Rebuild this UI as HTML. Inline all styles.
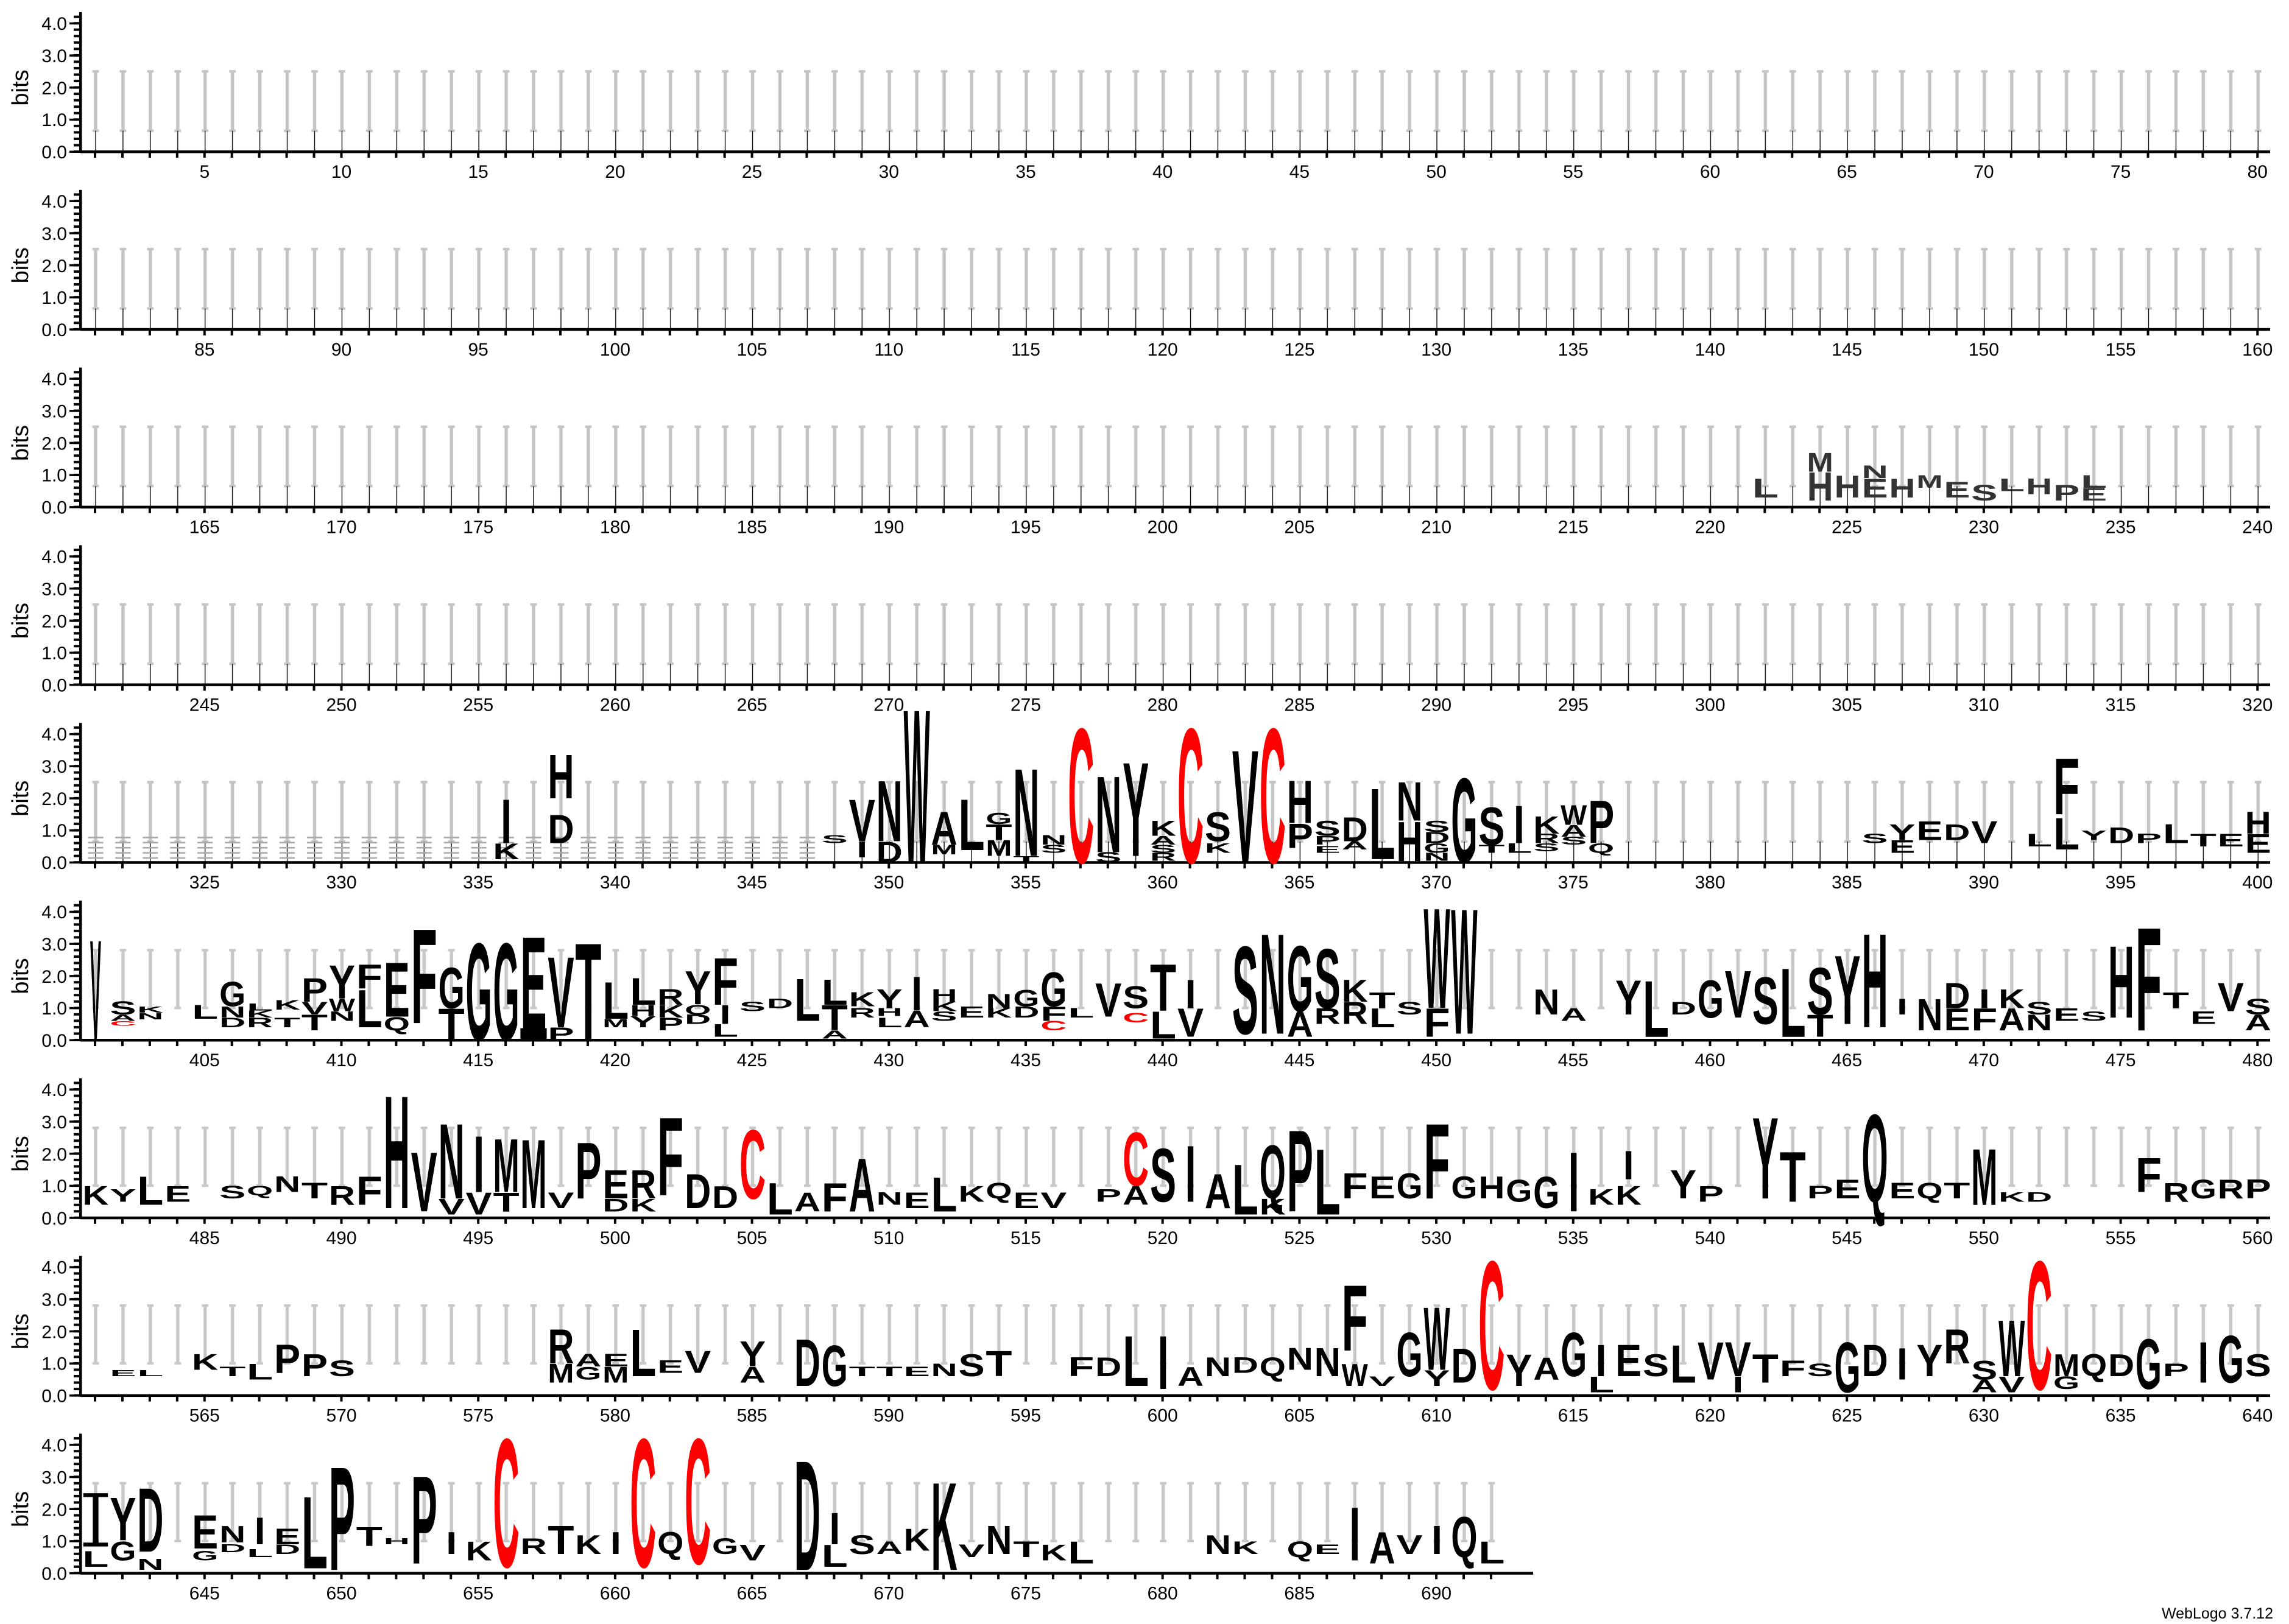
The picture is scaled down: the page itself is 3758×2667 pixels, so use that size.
<!DOCTYPE html>
<html><head><meta charset="utf-8"><style>
html,body{margin:0;padding:0;background:#fff}
svg{display:block}
.l{font-family:"Liberation Sans",sans-serif;font-weight:bold;fill:#000}
.r{fill:#f00}
.g{fill:#333}
.t{font-family:"Liberation Sans",sans-serif;font-size:30px;fill:#000}
.b{font-family:"Liberation Sans",sans-serif;font-size:38px;fill:#000}
</style></head><body>
<svg width="3758" height="2667" viewBox="0 0 3758 2667" xmlns="http://www.w3.org/2000/svg">
<defs>
<pattern id="eb" patternUnits="userSpaceOnUse" x="0" y="-260" width="100" height="260">
<line x1="50" y1="10" x2="50" y2="195" stroke="#c4c4c4" stroke-width="12"/>
<line x1="38" y1="10" x2="62" y2="10" stroke="#c4c4c4" stroke-width="8"/>
<line x1="38" y1="195" x2="62" y2="195" stroke="#c4c4c4" stroke-width="8"/>
<line x1="50" y1="195" x2="50" y2="260" stroke="#000" stroke-width="3"/>
</pattern>
<pattern id="eb2" patternUnits="userSpaceOnUse" x="0" y="-300" width="100" height="300">
<line x1="50" y1="20" x2="50" y2="200" stroke="#c8c8c8" stroke-width="12"/>
<line x1="38" y1="20" x2="62" y2="20" stroke="#c8c8c8" stroke-width="8"/>
<line x1="38" y1="200" x2="62" y2="200" stroke="#c8c8c8" stroke-width="8"/>
</pattern>
<pattern id="st" patternUnits="userSpaceOnUse" x="0" y="0" width="100" height="16">
<rect x="22" y="0" width="56" height="5" fill="#aaa"/>
</pattern>
<pattern id="xt" patternUnits="userSpaceOnUse" x="133.53" y="0" width="44.94" height="12">
<rect x="20.5" y="0" width="4" height="12" fill="#000"/>
</pattern>
<pattern id="yt" patternUnits="userSpaceOnUse" x="0" y="0" width="20" height="10.54">
<rect x="0" y="0" width="20" height="2" fill="#000"/><rect x="0" y="8.54" width="20" height="2" fill="#000"/>
</pattern>
<g id="yax">
<rect x="121" y="-225" width="11" height="226" fill="url(#yt)"/>
<rect x="130" y="-229" width="4.5" height="231" fill="#000"/>
<rect x="114" y="-1.5" width="18" height="3.5" fill="#000"/>
<rect x="114" y="-54.2" width="18" height="3.5" fill="#000"/>
<rect x="114" y="-106.9" width="18" height="3.5" fill="#000"/>
<rect x="114" y="-159.6" width="18" height="3.5" fill="#000"/>
<rect x="114" y="-212.3" width="18" height="3.5" fill="#000"/>
</g>
</defs>

<g transform="translate(0,249)">
<use href="#yax"/>
<rect x="132" y="-2" width="3595" height="4.5" fill="#000"/><rect x="132" y="2" width="3595" height="8" fill="url(#xt)"/>
<g class="t" text-anchor="end"><text x="110" y="11">0.0</text><text x="110" y="-42">1.0</text><text x="110" y="-94">2.0</text><text x="110" y="-147">3.0</text><text x="110" y="-200">4.0</text></g>
<text class="b" transform="translate(46,-105) rotate(-90)" text-anchor="middle">bits</text>
<g class="t" text-anchor="middle"><text x="335.8" y="43">5</text><text x="560.5" y="43">10</text><text x="785.2" y="43">15</text><text x="1009.9" y="43">20</text><text x="1234.6" y="43">25</text><text x="1459.3" y="43">30</text><text x="1684" y="43">35</text><text x="1908.7" y="43">40</text><text x="2133.4" y="43">45</text><text x="2358.1" y="43">50</text><text x="2582.8" y="43">55</text><text x="2807.5" y="43">60</text><text x="3032.2" y="43">65</text><text x="3256.9" y="43">70</text><text x="3481.6" y="43">75</text><text x="3706.3" y="43">80</text></g>
</g>
<g transform="translate(0,540.8)">
<use href="#yax"/>
<rect x="132" y="-2" width="3595" height="4.5" fill="#000"/><rect x="132" y="2" width="3595" height="8" fill="url(#xt)"/>
<g class="t" text-anchor="end"><text x="110" y="11">0.0</text><text x="110" y="-42">1.0</text><text x="110" y="-94">2.0</text><text x="110" y="-147">3.0</text><text x="110" y="-200">4.0</text></g>
<text class="b" transform="translate(46,-105) rotate(-90)" text-anchor="middle">bits</text>
<g class="t" text-anchor="middle"><text x="335.8" y="43">85</text><text x="560.5" y="43">90</text><text x="785.2" y="43">95</text><text x="1009.9" y="43">100</text><text x="1234.6" y="43">105</text><text x="1459.3" y="43">110</text><text x="1684" y="43">115</text><text x="1908.7" y="43">120</text><text x="2133.4" y="43">125</text><text x="2358.1" y="43">130</text><text x="2582.8" y="43">135</text><text x="2807.5" y="43">140</text><text x="3032.2" y="43">145</text><text x="3256.9" y="43">150</text><text x="3481.6" y="43">155</text><text x="3706.3" y="43">160</text></g>
</g>
<g transform="translate(0,832.6)">
<use href="#yax"/>
<rect x="132" y="-2" width="3595" height="4.5" fill="#000"/><rect x="132" y="2" width="3595" height="8" fill="url(#xt)"/>
<g class="t" text-anchor="end"><text x="110" y="11">0.0</text><text x="110" y="-42">1.0</text><text x="110" y="-94">2.0</text><text x="110" y="-147">3.0</text><text x="110" y="-200">4.0</text></g>
<text class="b" transform="translate(46,-105) rotate(-90)" text-anchor="middle">bits</text>
<g class="t" text-anchor="middle"><text x="335.8" y="43">165</text><text x="560.5" y="43">170</text><text x="785.2" y="43">175</text><text x="1009.9" y="43">180</text><text x="1234.6" y="43">185</text><text x="1459.3" y="43">190</text><text x="1684" y="43">195</text><text x="1908.7" y="43">200</text><text x="2133.4" y="43">205</text><text x="2358.1" y="43">210</text><text x="2582.8" y="43">215</text><text x="2807.5" y="43">220</text><text x="3032.2" y="43">225</text><text x="3256.9" y="43">230</text><text x="3481.6" y="43">235</text><text x="3706.3" y="43">240</text></g>
</g>
<g transform="translate(0,1124.4)">
<use href="#yax"/>
<rect x="132" y="-2" width="3595" height="4.5" fill="#000"/><rect x="132" y="2" width="3595" height="8" fill="url(#xt)"/>
<g class="t" text-anchor="end"><text x="110" y="11">0.0</text><text x="110" y="-42">1.0</text><text x="110" y="-94">2.0</text><text x="110" y="-147">3.0</text><text x="110" y="-200">4.0</text></g>
<text class="b" transform="translate(46,-105) rotate(-90)" text-anchor="middle">bits</text>
<g class="t" text-anchor="middle"><text x="335.8" y="43">245</text><text x="560.5" y="43">250</text><text x="785.2" y="43">255</text><text x="1009.9" y="43">260</text><text x="1234.6" y="43">265</text><text x="1459.3" y="43">270</text><text x="1684" y="43">275</text><text x="1908.7" y="43">280</text><text x="2133.4" y="43">285</text><text x="2358.1" y="43">290</text><text x="2582.8" y="43">295</text><text x="2807.5" y="43">300</text><text x="3032.2" y="43">305</text><text x="3256.9" y="43">310</text><text x="3481.6" y="43">315</text><text x="3706.3" y="43">320</text></g>
</g>
<g transform="translate(0,1416.2)">
<use href="#yax"/>
<rect x="132" y="-2" width="3595" height="4.5" fill="#000"/><rect x="132" y="2" width="3595" height="8" fill="url(#xt)"/>
<g class="t" text-anchor="end"><text x="110" y="11">0.0</text><text x="110" y="-42">1.0</text><text x="110" y="-94">2.0</text><text x="110" y="-147">3.0</text><text x="110" y="-200">4.0</text></g>
<text class="b" transform="translate(46,-105) rotate(-90)" text-anchor="middle">bits</text>
<g class="t" text-anchor="middle"><text x="335.8" y="43">325</text><text x="560.5" y="43">330</text><text x="785.2" y="43">335</text><text x="1009.9" y="43">340</text><text x="1234.6" y="43">345</text><text x="1459.3" y="43">350</text><text x="1684" y="43">355</text><text x="1908.7" y="43">360</text><text x="2133.4" y="43">365</text><text x="2358.1" y="43">370</text><text x="2582.8" y="43">375</text><text x="2807.5" y="43">380</text><text x="3032.2" y="43">385</text><text x="3256.9" y="43">390</text><text x="3481.6" y="43">395</text><text x="3706.3" y="43">400</text></g>
</g>
<g transform="translate(0,1708)">
<use href="#yax"/>
<rect x="132" y="-2" width="3595" height="4.5" fill="#000"/><rect x="132" y="2" width="3595" height="8" fill="url(#xt)"/>
<g class="t" text-anchor="end"><text x="110" y="11">0.0</text><text x="110" y="-42">1.0</text><text x="110" y="-94">2.0</text><text x="110" y="-147">3.0</text><text x="110" y="-200">4.0</text></g>
<text class="b" transform="translate(46,-105) rotate(-90)" text-anchor="middle">bits</text>
<g class="t" text-anchor="middle"><text x="335.8" y="43">405</text><text x="560.5" y="43">410</text><text x="785.2" y="43">415</text><text x="1009.9" y="43">420</text><text x="1234.6" y="43">425</text><text x="1459.3" y="43">430</text><text x="1684" y="43">435</text><text x="1908.7" y="43">440</text><text x="2133.4" y="43">445</text><text x="2358.1" y="43">450</text><text x="2582.8" y="43">455</text><text x="2807.5" y="43">460</text><text x="3032.2" y="43">465</text><text x="3256.9" y="43">470</text><text x="3481.6" y="43">475</text><text x="3706.3" y="43">480</text></g>
</g>
<g transform="translate(0,1999.8)">
<use href="#yax"/>
<rect x="132" y="-2" width="3595" height="4.5" fill="#000"/><rect x="132" y="2" width="3595" height="8" fill="url(#xt)"/>
<g class="t" text-anchor="end"><text x="110" y="11">0.0</text><text x="110" y="-42">1.0</text><text x="110" y="-94">2.0</text><text x="110" y="-147">3.0</text><text x="110" y="-200">4.0</text></g>
<text class="b" transform="translate(46,-105) rotate(-90)" text-anchor="middle">bits</text>
<g class="t" text-anchor="middle"><text x="335.8" y="43">485</text><text x="560.5" y="43">490</text><text x="785.2" y="43">495</text><text x="1009.9" y="43">500</text><text x="1234.6" y="43">505</text><text x="1459.3" y="43">510</text><text x="1684" y="43">515</text><text x="1908.7" y="43">520</text><text x="2133.4" y="43">525</text><text x="2358.1" y="43">530</text><text x="2582.8" y="43">535</text><text x="2807.5" y="43">540</text><text x="3032.2" y="43">545</text><text x="3256.9" y="43">550</text><text x="3481.6" y="43">555</text><text x="3706.3" y="43">560</text></g>
</g>
<g transform="translate(0,2291.6)">
<use href="#yax"/>
<rect x="132" y="-2" width="3595" height="4.5" fill="#000"/><rect x="132" y="2" width="3595" height="8" fill="url(#xt)"/>
<g class="t" text-anchor="end"><text x="110" y="11">0.0</text><text x="110" y="-42">1.0</text><text x="110" y="-94">2.0</text><text x="110" y="-147">3.0</text><text x="110" y="-200">4.0</text></g>
<text class="b" transform="translate(46,-105) rotate(-90)" text-anchor="middle">bits</text>
<g class="t" text-anchor="middle"><text x="335.8" y="43">565</text><text x="560.5" y="43">570</text><text x="785.2" y="43">575</text><text x="1009.9" y="43">580</text><text x="1234.6" y="43">585</text><text x="1459.3" y="43">590</text><text x="1684" y="43">595</text><text x="1908.7" y="43">600</text><text x="2133.4" y="43">605</text><text x="2358.1" y="43">610</text><text x="2582.8" y="43">615</text><text x="2807.5" y="43">620</text><text x="3032.2" y="43">625</text><text x="3256.9" y="43">630</text><text x="3481.6" y="43">635</text><text x="3706.3" y="43">640</text></g>
</g>
<g transform="translate(0,2583.4)">
<use href="#yax"/>
<rect x="132" y="-2" width="2385" height="4.5" fill="#000"/><rect x="132" y="2" width="2345" height="8" fill="url(#xt)"/>
<g class="t" text-anchor="end"><text x="110" y="11">0.0</text><text x="110" y="-42">1.0</text><text x="110" y="-94">2.0</text><text x="110" y="-147">3.0</text><text x="110" y="-200">4.0</text></g>
<text class="b" transform="translate(46,-105) rotate(-90)" text-anchor="middle">bits</text>
<g class="t" text-anchor="middle"><text x="335.8" y="43">645</text><text x="560.5" y="43">650</text><text x="785.2" y="43">655</text><text x="1009.9" y="43">660</text><text x="1234.6" y="43">665</text><text x="1459.3" y="43">670</text><text x="1684" y="43">675</text><text x="1908.7" y="43">680</text><text x="2133.4" y="43">685</text><text x="2358.1" y="43">690</text></g>
</g>

<g transform="translate(134.5,249) scale(0.4494,0.527)"><rect x="0" y="-260" width="8000" height="257" fill="url(#eb)"/></g>
<g transform="translate(134.5,540.8) scale(0.4494,0.527)"><rect x="0" y="-260" width="8000" height="257" fill="url(#eb)"/></g>
<g transform="translate(134.5,832.6) scale(0.4494,0.527)"><rect x="0" y="-260" width="8000" height="257" fill="url(#eb)"/>
<g class="l g">
<text x="6102" y="-30" font-size="84" textLength="96" lengthAdjust="spacingAndGlyphs">L</text>
<text x="6302" y="-110" font-size="84" textLength="96" lengthAdjust="spacingAndGlyphs">M</text>
<text x="6302" y="-20" font-size="126" textLength="96" lengthAdjust="spacingAndGlyphs">H</text>
<text x="6402" y="-30" font-size="98" textLength="96" lengthAdjust="spacingAndGlyphs">H</text>
<text x="6502" y="-90" font-size="56" textLength="96" lengthAdjust="spacingAndGlyphs">N</text>
<text x="6502" y="-30" font-size="84" textLength="96" lengthAdjust="spacingAndGlyphs">E</text>
<text x="6602" y="-30" font-size="84" textLength="96" lengthAdjust="spacingAndGlyphs">H</text>
<text x="6702" y="-60" font-size="56" textLength="96" lengthAdjust="spacingAndGlyphs">M</text>
<text x="6802" y="-30" font-size="70" textLength="96" lengthAdjust="spacingAndGlyphs">E</text>
<text x="6902" y="-20" font-size="70" textLength="96" lengthAdjust="spacingAndGlyphs">S</text>
<text x="7002" y="-50" font-size="56" textLength="96" lengthAdjust="spacingAndGlyphs">L</text>
<text x="7102" y="-40" font-size="70" textLength="96" lengthAdjust="spacingAndGlyphs">H</text>
<text x="7202" y="-20" font-size="70" textLength="96" lengthAdjust="spacingAndGlyphs">P</text>
<text x="7302" y="-60" font-size="56" textLength="96" lengthAdjust="spacingAndGlyphs">L</text>
<text x="7302" y="-20" font-size="56" textLength="96" lengthAdjust="spacingAndGlyphs">E</text>
</g></g>
<g transform="translate(134.5,1124.4) scale(0.4494,0.527)"><rect x="0" y="-260" width="8000" height="257" fill="url(#eb)"/></g>

<!-- Row 5 -->
<g transform="translate(134.5,1416.2) scale(0.4494,0.527)">
<rect x="0" y="-260" width="8000" height="257" fill="url(#eb)"/>
<rect x="0" y="-90" width="2700" height="80" fill="url(#st)"/>
<g class="l">
<text x="1530" y="-60" font-size="196" textLength="40" lengthAdjust="spacingAndGlyphs">I</text>
<text x="1502" y="-10" font-size="70" textLength="96" lengthAdjust="spacingAndGlyphs">K</text>
<text x="1702" y="-200" font-size="196" textLength="96" lengthAdjust="spacingAndGlyphs">H</text>
<text x="1702" y="-60" font-size="126" textLength="96" lengthAdjust="spacingAndGlyphs">D</text>
<text x="2702" y="-60" font-size="35" textLength="96" lengthAdjust="spacingAndGlyphs">S</text>
<text x="2802" y="-66" font-size="187" textLength="96" lengthAdjust="spacingAndGlyphs">V</text>
<text x="2830" y="-16" font-size="70" textLength="40" lengthAdjust="spacingAndGlyphs">I</text>
<text x="2902" y="-66" font-size="271" textLength="96" lengthAdjust="spacingAndGlyphs">N</text>
<text x="2902" y="0" font-size="92" textLength="96" lengthAdjust="spacingAndGlyphs">D</text>
<text x="3002" y="0" font-size="685" textLength="96" lengthAdjust="spacingAndGlyphs">W</text>
<text x="3102" y="-55" font-size="147" textLength="96" lengthAdjust="spacingAndGlyphs">A</text>
<text x="3102" y="-25" font-size="42" textLength="96" lengthAdjust="spacingAndGlyphs">M</text>
<text x="3202" y="-38" font-size="227" textLength="96" lengthAdjust="spacingAndGlyphs">L</text>
<text x="3302" y="-120" font-size="49" textLength="96" lengthAdjust="spacingAndGlyphs">G</text>
<text x="3302" y="-70" font-size="70" textLength="96" lengthAdjust="spacingAndGlyphs">T</text>
<text x="3302" y="-20" font-size="70" textLength="96" lengthAdjust="spacingAndGlyphs">M</text>
<text x="3402" y="-20" font-size="391" textLength="96" lengthAdjust="spacingAndGlyphs">N</text>
<text x="3402" y="0" font-size="28" textLength="96" lengthAdjust="spacingAndGlyphs">T</text>
<text x="3502" y="-55" font-size="42" textLength="96" lengthAdjust="spacingAndGlyphs">N</text>
<text x="3502" y="-30" font-size="35" textLength="96" lengthAdjust="spacingAndGlyphs">S</text>
<text class="l r" x="3602" y="0" font-size="600" textLength="96" lengthAdjust="spacingAndGlyphs">C</text>
<text x="3702" y="-32" font-size="340" textLength="96" lengthAdjust="spacingAndGlyphs">N</text>
<text x="3702" y="0" font-size="45" textLength="96" lengthAdjust="spacingAndGlyphs">S</text>
<text x="3802" y="-20" font-size="419" textLength="96" lengthAdjust="spacingAndGlyphs">Y</text>
<text x="3902" y="-83" font-size="66" textLength="96" lengthAdjust="spacingAndGlyphs">K</text>
<text x="3902" y="-55" font-size="39" textLength="96" lengthAdjust="spacingAndGlyphs">A</text>
<text x="3902" y="-30" font-size="35" textLength="96" lengthAdjust="spacingAndGlyphs">S</text>
<text x="3902" y="-5" font-size="35" textLength="96" lengthAdjust="spacingAndGlyphs">R</text>
<text class="l r" x="4002" y="0" font-size="600" textLength="96" lengthAdjust="spacingAndGlyphs">C</text>
<text x="4102" y="-66" font-size="131" textLength="96" lengthAdjust="spacingAndGlyphs">S</text>
<text x="4102" y="-30" font-size="42" textLength="96" lengthAdjust="spacingAndGlyphs">K</text>
<text x="4202" y="0" font-size="503" textLength="96" lengthAdjust="spacingAndGlyphs">V</text>
<text class="l r" x="4302" y="0" font-size="600" textLength="96" lengthAdjust="spacingAndGlyphs">C</text>
<text x="4402" y="-123" font-size="191" textLength="96" lengthAdjust="spacingAndGlyphs">H</text>
<text x="4402" y="-45" font-size="109" textLength="96" lengthAdjust="spacingAndGlyphs">P</text>
<text x="4502" y="-83" font-size="66" textLength="96" lengthAdjust="spacingAndGlyphs">S</text>
<text x="4502" y="-55" font-size="39" textLength="96" lengthAdjust="spacingAndGlyphs">P</text>
<text x="4502" y="-30" font-size="30" textLength="96" lengthAdjust="spacingAndGlyphs">E</text>
<text x="4602" y="-66" font-size="108" textLength="96" lengthAdjust="spacingAndGlyphs">D</text>
<text x="4602" y="-40" font-size="36" textLength="96" lengthAdjust="spacingAndGlyphs">A</text>
<text x="4702" y="-10" font-size="317" textLength="96" lengthAdjust="spacingAndGlyphs">L</text>
<text x="4802" y="-130" font-size="173" textLength="96" lengthAdjust="spacingAndGlyphs">N</text>
<text x="4802" y="-4" font-size="176" textLength="96" lengthAdjust="spacingAndGlyphs">H</text>
<text x="4902" y="-95" font-size="49" textLength="96" lengthAdjust="spacingAndGlyphs">S</text>
<text x="4902" y="-60" font-size="49" textLength="96" lengthAdjust="spacingAndGlyphs">D</text>
<text x="4902" y="-30" font-size="42" textLength="96" lengthAdjust="spacingAndGlyphs">G</text>
<text x="4902" y="-5" font-size="35" textLength="96" lengthAdjust="spacingAndGlyphs">N</text>
<text x="5002" y="0" font-size="377" textLength="96" lengthAdjust="spacingAndGlyphs">G</text>
<text x="5102" y="-55" font-size="168" textLength="96" lengthAdjust="spacingAndGlyphs">S</text>
<text x="5102" y="-30" font-size="35" textLength="96" lengthAdjust="spacingAndGlyphs">T</text>
<text x="5230" y="-60" font-size="168" textLength="40" lengthAdjust="spacingAndGlyphs">I</text>
<text x="5202" y="-30" font-size="42" textLength="96" lengthAdjust="spacingAndGlyphs">L</text>
<text x="5302" y="-90" font-size="78" textLength="96" lengthAdjust="spacingAndGlyphs">K</text>
<text x="5302" y="-60" font-size="42" textLength="96" lengthAdjust="spacingAndGlyphs">R</text>
<text x="5302" y="-35" font-size="35" textLength="96" lengthAdjust="spacingAndGlyphs">S</text>
<text x="5402" y="-117" font-size="88" textLength="96" lengthAdjust="spacingAndGlyphs">W</text>
<text x="5402" y="-80" font-size="52" textLength="96" lengthAdjust="spacingAndGlyphs">A</text>
<text x="5402" y="-55" font-size="35" textLength="96" lengthAdjust="spacingAndGlyphs">S</text>
<text x="5502" y="-60" font-size="191" textLength="96" lengthAdjust="spacingAndGlyphs">P</text>
<text x="5502" y="-30" font-size="42" textLength="96" lengthAdjust="spacingAndGlyphs">Q</text>
<text x="6502" y="-60" font-size="42" textLength="96" lengthAdjust="spacingAndGlyphs">S</text>
<text x="6602" y="-70" font-size="70" textLength="96" lengthAdjust="spacingAndGlyphs">Y</text>
<text x="6602" y="-30" font-size="56" textLength="96" lengthAdjust="spacingAndGlyphs">E</text>
<text x="6702" y="-70" font-size="84" textLength="96" lengthAdjust="spacingAndGlyphs">E</text>
<text x="6802" y="-70" font-size="70" textLength="96" lengthAdjust="spacingAndGlyphs">D</text>
<text x="6902" y="-60" font-size="98" textLength="96" lengthAdjust="spacingAndGlyphs">V</text>
<text x="7102" y="-50" font-size="56" textLength="96" lengthAdjust="spacingAndGlyphs">L</text>
<text x="7202" y="-150" font-size="251" textLength="96" lengthAdjust="spacingAndGlyphs">F</text>
<text x="7202" y="-40" font-size="140" textLength="96" lengthAdjust="spacingAndGlyphs">L</text>
<text x="7302" y="-70" font-size="42" textLength="96" lengthAdjust="spacingAndGlyphs">Y</text>
<text x="7402" y="-60" font-size="70" textLength="96" lengthAdjust="spacingAndGlyphs">D</text>
<text x="7502" y="-60" font-size="42" textLength="96" lengthAdjust="spacingAndGlyphs">P</text>
<text x="7602" y="-60" font-size="84" textLength="96" lengthAdjust="spacingAndGlyphs">L</text>
<text x="7702" y="-50" font-size="56" textLength="96" lengthAdjust="spacingAndGlyphs">T</text>
<text x="7802" y="-50" font-size="56" textLength="96" lengthAdjust="spacingAndGlyphs">E</text>
<text x="7902" y="-90" font-size="98" textLength="96" lengthAdjust="spacingAndGlyphs">H</text>
<text x="7902" y="-30" font-size="84" textLength="96" lengthAdjust="spacingAndGlyphs">E</text>
</g></g>

<!-- Row 6 -->
<g transform="translate(134.5,1708) scale(0.4494,0.527)">
<rect x="0" y="-300" width="8000" height="300" fill="url(#eb2)"/>
<g class="l">
<text x="30" y="0" font-size="447" textLength="40" lengthAdjust="spacingAndGlyphs">V</text>
<text x="102" y="-80" font-size="60" textLength="96" lengthAdjust="spacingAndGlyphs">S</text>
<text x="102" y="-60" font-size="28" textLength="96" lengthAdjust="spacingAndGlyphs">A</text>
<text class="l r" x="102" y="-45" font-size="21" textLength="96" lengthAdjust="spacingAndGlyphs">C</text>
<text x="202" y="-85" font-size="28" textLength="96" lengthAdjust="spacingAndGlyphs">K</text>
<text x="202" y="-65" font-size="28" textLength="96" lengthAdjust="spacingAndGlyphs">N</text>
<text x="402" y="-66" font-size="61" textLength="96" lengthAdjust="spacingAndGlyphs">L</text>
<text x="502" y="-105" font-size="109" textLength="96" lengthAdjust="spacingAndGlyphs">G</text>
<text x="502" y="-70" font-size="49" textLength="96" lengthAdjust="spacingAndGlyphs">N</text>
<text x="502" y="-40" font-size="42" textLength="96" lengthAdjust="spacingAndGlyphs">D</text>
<text x="602" y="-92" font-size="32" textLength="96" lengthAdjust="spacingAndGlyphs">L</text>
<text x="602" y="-70" font-size="31" textLength="96" lengthAdjust="spacingAndGlyphs">K</text>
<text x="602" y="-40" font-size="42" textLength="96" lengthAdjust="spacingAndGlyphs">R</text>
<text x="702" y="-95" font-size="42" textLength="96" lengthAdjust="spacingAndGlyphs">K</text>
<text x="702" y="-40" font-size="42" textLength="96" lengthAdjust="spacingAndGlyphs">T</text>
<text x="802" y="-120" font-size="105" textLength="96" lengthAdjust="spacingAndGlyphs">P</text>
<text x="802" y="-80" font-size="56" textLength="96" lengthAdjust="spacingAndGlyphs">V</text>
<text x="802" y="-30" font-size="70" textLength="96" lengthAdjust="spacingAndGlyphs">T</text>
<text x="902" y="-130" font-size="147" textLength="96" lengthAdjust="spacingAndGlyphs">Y</text>
<text x="902" y="-90" font-size="56" textLength="96" lengthAdjust="spacingAndGlyphs">W</text>
<text x="902" y="-60" font-size="42" textLength="96" lengthAdjust="spacingAndGlyphs">N</text>
<text x="1002" y="-160" font-size="108" textLength="96" lengthAdjust="spacingAndGlyphs">F</text>
<text x="1002" y="-40" font-size="168" textLength="96" lengthAdjust="spacingAndGlyphs">L</text>
<text x="1102" y="-73" font-size="243" textLength="96" lengthAdjust="spacingAndGlyphs">E</text>
<text x="1102" y="-30" font-size="60" textLength="96" lengthAdjust="spacingAndGlyphs">Q</text>
<text x="1202" y="-53" font-size="422" textLength="96" lengthAdjust="spacingAndGlyphs">F</text>
<text x="1302" y="-100" font-size="182" textLength="96" lengthAdjust="spacingAndGlyphs">G</text>
<text x="1302" y="0" font-size="140" textLength="96" lengthAdjust="spacingAndGlyphs">T</text>
<text x="1402" y="0" font-size="434" textLength="96" lengthAdjust="spacingAndGlyphs">G</text>
<text x="1502" y="0" font-size="434" textLength="96" lengthAdjust="spacingAndGlyphs">G</text>
<text x="1602" y="-37" font-size="410" textLength="96" lengthAdjust="spacingAndGlyphs">E</text>
<rect x="1602" y="-37" width="96" height="37" fill="#000"/>
<text x="1702" y="-40" font-size="315" textLength="96" lengthAdjust="spacingAndGlyphs">V</text>
<text x="1702" y="0" font-size="56" textLength="96" lengthAdjust="spacingAndGlyphs">P</text>
<text x="1802" y="0" font-size="434" textLength="96" lengthAdjust="spacingAndGlyphs">T</text>
<text x="1902" y="-66" font-size="164" textLength="96" lengthAdjust="spacingAndGlyphs">L</text>
<text x="1902" y="-40" font-size="36" textLength="96" lengthAdjust="spacingAndGlyphs">M</text>
<text x="2002" y="-110" font-size="119" textLength="96" lengthAdjust="spacingAndGlyphs">L</text>
<text x="2002" y="-75" font-size="49" textLength="96" lengthAdjust="spacingAndGlyphs">H</text>
<text x="2002" y="-40" font-size="49" textLength="96" lengthAdjust="spacingAndGlyphs">Y</text>
<text x="2102" y="-110" font-size="70" textLength="96" lengthAdjust="spacingAndGlyphs">R</text>
<text x="2102" y="-70" font-size="56" textLength="96" lengthAdjust="spacingAndGlyphs">K</text>
<text x="2102" y="-30" font-size="56" textLength="96" lengthAdjust="spacingAndGlyphs">P</text>
<text x="2202" y="-112" font-size="147" textLength="96" lengthAdjust="spacingAndGlyphs">Y</text>
<text x="2202" y="-80" font-size="42" textLength="96" lengthAdjust="spacingAndGlyphs">Q</text>
<text x="2202" y="-50" font-size="42" textLength="96" lengthAdjust="spacingAndGlyphs">D</text>
<text x="2302" y="-110" font-size="210" textLength="96" lengthAdjust="spacingAndGlyphs">F</text>
<text x="2330" y="-50" font-size="84" textLength="40" lengthAdjust="spacingAndGlyphs">I</text>
<text x="2302" y="-10" font-size="56" textLength="96" lengthAdjust="spacingAndGlyphs">L</text>
<text x="2402" y="-90" font-size="42" textLength="96" lengthAdjust="spacingAndGlyphs">S</text>
<text x="2502" y="-100" font-size="42" textLength="96" lengthAdjust="spacingAndGlyphs">D</text>
<text x="2602" y="-60" font-size="189" textLength="96" lengthAdjust="spacingAndGlyphs">L</text>
<text x="2702" y="-110" font-size="112" textLength="96" lengthAdjust="spacingAndGlyphs">L</text>
<text x="2702" y="-30" font-size="112" textLength="96" lengthAdjust="spacingAndGlyphs">T</text>
<text x="2702" y="-5" font-size="35" textLength="96" lengthAdjust="spacingAndGlyphs">A</text>
<text x="2802" y="-105" font-size="63" textLength="96" lengthAdjust="spacingAndGlyphs">K</text>
<text x="2802" y="-70" font-size="42" textLength="96" lengthAdjust="spacingAndGlyphs">R</text>
<text x="2902" y="-100" font-size="84" textLength="96" lengthAdjust="spacingAndGlyphs">Y</text>
<text x="2902" y="-75" font-size="35" textLength="96" lengthAdjust="spacingAndGlyphs">H</text>
<text x="2902" y="-40" font-size="42" textLength="96" lengthAdjust="spacingAndGlyphs">L</text>
<text x="3030" y="-92" font-size="151" textLength="40" lengthAdjust="spacingAndGlyphs">I</text>
<text x="3002" y="-40" font-size="73" textLength="96" lengthAdjust="spacingAndGlyphs">A</text>
<text x="3102" y="-120" font-size="56" textLength="96" lengthAdjust="spacingAndGlyphs">H</text>
<text x="3102" y="-90" font-size="42" textLength="96" lengthAdjust="spacingAndGlyphs">K</text>
<text x="3102" y="-60" font-size="42" textLength="96" lengthAdjust="spacingAndGlyphs">S</text>
<text x="3202" y="-70" font-size="49" textLength="96" lengthAdjust="spacingAndGlyphs">E</text>
<text x="3302" y="-100" font-size="63" textLength="96" lengthAdjust="spacingAndGlyphs">N</text>
<text x="3302" y="-70" font-size="42" textLength="96" lengthAdjust="spacingAndGlyphs">K</text>
<text x="3402" y="-105" font-size="73" textLength="96" lengthAdjust="spacingAndGlyphs">G</text>
<text x="3402" y="-70" font-size="49" textLength="96" lengthAdjust="spacingAndGlyphs">D</text>
<text x="3502" y="-105" font-size="154" textLength="96" lengthAdjust="spacingAndGlyphs">G</text>
<text x="3502" y="-60" font-size="63" textLength="96" lengthAdjust="spacingAndGlyphs">F</text>
<text class="l r" x="3502" y="-30" font-size="42" textLength="96" lengthAdjust="spacingAndGlyphs">C</text>
<text x="3602" y="-70" font-size="42" textLength="96" lengthAdjust="spacingAndGlyphs">L</text>
<text x="3702" y="-73" font-size="150" textLength="96" lengthAdjust="spacingAndGlyphs">V</text>
<text x="3802" y="-100" font-size="98" textLength="96" lengthAdjust="spacingAndGlyphs">S</text>
<text class="l r" x="3802" y="-55" font-size="42" textLength="96" lengthAdjust="spacingAndGlyphs">C</text>
<text x="3902" y="-92" font-size="207" textLength="96" lengthAdjust="spacingAndGlyphs">T</text>
<text x="3902" y="-5" font-size="122" textLength="96" lengthAdjust="spacingAndGlyphs">L</text>
<text x="4030" y="-100" font-size="126" textLength="40" lengthAdjust="spacingAndGlyphs">I</text>
<text x="4002" y="-10" font-size="126" textLength="96" lengthAdjust="spacingAndGlyphs">V</text>
<text x="4202" y="-20" font-size="391" textLength="96" lengthAdjust="spacingAndGlyphs">S</text>
<text x="4302" y="-20" font-size="447" textLength="96" lengthAdjust="spacingAndGlyphs">N</text>
<text x="4402" y="-90" font-size="293" textLength="96" lengthAdjust="spacingAndGlyphs">G</text>
<text x="4402" y="-10" font-size="112" textLength="96" lengthAdjust="spacingAndGlyphs">A</text>
<text x="4502" y="-100" font-size="265" textLength="96" lengthAdjust="spacingAndGlyphs">S</text>
<text x="4502" y="-50" font-size="70" textLength="96" lengthAdjust="spacingAndGlyphs">R</text>
<text x="4602" y="-120" font-size="98" textLength="96" lengthAdjust="spacingAndGlyphs">K</text>
<text x="4602" y="-50" font-size="98" textLength="96" lengthAdjust="spacingAndGlyphs">R</text>
<text x="4702" y="-100" font-size="70" textLength="96" lengthAdjust="spacingAndGlyphs">T</text>
<text x="4702" y="-40" font-size="84" textLength="96" lengthAdjust="spacingAndGlyphs">L</text>
<text x="4802" y="-80" font-size="56" textLength="96" lengthAdjust="spacingAndGlyphs">S</text>
<text x="4902" y="-100" font-size="447" textLength="96" lengthAdjust="spacingAndGlyphs">W</text>
<text x="4902" y="-10" font-size="126" textLength="96" lengthAdjust="spacingAndGlyphs">F</text>
<text x="5002" y="-20" font-size="559" textLength="96" lengthAdjust="spacingAndGlyphs">W</text>
<text x="5302" y="-80" font-size="112" textLength="96" lengthAdjust="spacingAndGlyphs">N</text>
<text x="5402" y="-60" font-size="56" textLength="96" lengthAdjust="spacingAndGlyphs">A</text>
<text x="5602" y="-80" font-size="154" textLength="96" lengthAdjust="spacingAndGlyphs">Y</text>
<text x="5702" y="-10" font-size="251" textLength="96" lengthAdjust="spacingAndGlyphs">L</text>
<text x="5802" y="-80" font-size="56" textLength="96" lengthAdjust="spacingAndGlyphs">D</text>
<text x="5902" y="-70" font-size="168" textLength="96" lengthAdjust="spacingAndGlyphs">G</text>
<text x="6002" y="-70" font-size="210" textLength="96" lengthAdjust="spacingAndGlyphs">V</text>
<text x="6102" y="-50" font-size="210" textLength="96" lengthAdjust="spacingAndGlyphs">S</text>
<text x="6202" y="-10" font-size="307" textLength="96" lengthAdjust="spacingAndGlyphs">L</text>
<text x="6302" y="-80" font-size="210" textLength="96" lengthAdjust="spacingAndGlyphs">S</text>
<text x="6302" y="-10" font-size="98" textLength="96" lengthAdjust="spacingAndGlyphs">T</text>
<text x="6402" y="-50" font-size="307" textLength="96" lengthAdjust="spacingAndGlyphs">Y</text>
<text x="6502" y="-40" font-size="419" textLength="96" lengthAdjust="spacingAndGlyphs">H</text>
<text x="6630" y="-80" font-size="70" textLength="40" lengthAdjust="spacingAndGlyphs">I</text>
<text x="6702" y="-30" font-size="140" textLength="96" lengthAdjust="spacingAndGlyphs">N</text>
<text x="6802" y="-100" font-size="112" textLength="96" lengthAdjust="spacingAndGlyphs">D</text>
<text x="6802" y="-30" font-size="98" textLength="96" lengthAdjust="spacingAndGlyphs">E</text>
<text x="6930" y="-100" font-size="84" textLength="40" lengthAdjust="spacingAndGlyphs">I</text>
<text x="6902" y="-30" font-size="98" textLength="96" lengthAdjust="spacingAndGlyphs">F</text>
<text x="7002" y="-100" font-size="84" textLength="96" lengthAdjust="spacingAndGlyphs">K</text>
<text x="7002" y="-30" font-size="98" textLength="96" lengthAdjust="spacingAndGlyphs">A</text>
<text x="7102" y="-80" font-size="56" textLength="96" lengthAdjust="spacingAndGlyphs">S</text>
<text x="7102" y="-30" font-size="70" textLength="96" lengthAdjust="spacingAndGlyphs">N</text>
<text x="7202" y="-60" font-size="56" textLength="96" lengthAdjust="spacingAndGlyphs">E</text>
<text x="7302" y="-60" font-size="42" textLength="96" lengthAdjust="spacingAndGlyphs">S</text>
<text x="7402" y="-70" font-size="321" textLength="96" lengthAdjust="spacingAndGlyphs">H</text>
<text x="7502" y="-30" font-size="461" textLength="96" lengthAdjust="spacingAndGlyphs">F</text>
<text x="7602" y="-100" font-size="70" textLength="96" lengthAdjust="spacingAndGlyphs">T</text>
<text x="7702" y="-50" font-size="56" textLength="96" lengthAdjust="spacingAndGlyphs">E</text>
<text x="7802" y="-90" font-size="126" textLength="96" lengthAdjust="spacingAndGlyphs">V</text>
<text x="7902" y="-80" font-size="70" textLength="96" lengthAdjust="spacingAndGlyphs">S</text>
<text x="7902" y="-30" font-size="70" textLength="96" lengthAdjust="spacingAndGlyphs">A</text>
</g></g>

<!-- Row 7 -->
<g transform="translate(134.5,1999.8) scale(0.4494,0.527)">
<rect x="0" y="-300" width="8000" height="300" fill="url(#eb2)"/>
<g class="l">
<text x="2" y="-40" font-size="84" textLength="96" lengthAdjust="spacingAndGlyphs">K</text>
<text x="102" y="-50" font-size="56" textLength="96" lengthAdjust="spacingAndGlyphs">Y</text>
<text x="202" y="-40" font-size="126" textLength="96" lengthAdjust="spacingAndGlyphs">L</text>
<text x="302" y="-50" font-size="70" textLength="96" lengthAdjust="spacingAndGlyphs">E</text>
<text x="502" y="-60" font-size="56" textLength="96" lengthAdjust="spacingAndGlyphs">S</text>
<text x="602" y="-70" font-size="42" textLength="96" lengthAdjust="spacingAndGlyphs">Q</text>
<text x="702" y="-80" font-size="70" textLength="96" lengthAdjust="spacingAndGlyphs">N</text>
<text x="802" y="-60" font-size="70" textLength="96" lengthAdjust="spacingAndGlyphs">T</text>
<text x="902" y="-40" font-size="84" textLength="96" lengthAdjust="spacingAndGlyphs">R</text>
<text x="1002" y="-40" font-size="126" textLength="96" lengthAdjust="spacingAndGlyphs">F</text>
<text x="1102" y="-30" font-size="503" textLength="96" lengthAdjust="spacingAndGlyphs">H</text>
<text x="1202" y="-20" font-size="265" textLength="96" lengthAdjust="spacingAndGlyphs">V</text>
<text x="1302" y="-60" font-size="335" textLength="96" lengthAdjust="spacingAndGlyphs">N</text>
<text x="1302" y="-10" font-size="70" textLength="96" lengthAdjust="spacingAndGlyphs">V</text>
<text x="1430" y="-80" font-size="251" textLength="40" lengthAdjust="spacingAndGlyphs">I</text>
<text x="1402" y="-10" font-size="98" textLength="96" lengthAdjust="spacingAndGlyphs">V</text>
<text x="1502" y="-80" font-size="237" textLength="96" lengthAdjust="spacingAndGlyphs">M</text>
<text x="1502" y="-20" font-size="84" textLength="96" lengthAdjust="spacingAndGlyphs">T</text>
<text x="1602" y="-30" font-size="307" textLength="96" lengthAdjust="spacingAndGlyphs">M</text>
<text x="1702" y="-30" font-size="70" textLength="96" lengthAdjust="spacingAndGlyphs">V</text>
<text x="1802" y="-60" font-size="251" textLength="96" lengthAdjust="spacingAndGlyphs">P</text>
<text x="1902" y="-60" font-size="126" textLength="96" lengthAdjust="spacingAndGlyphs">E</text>
<text x="1902" y="-20" font-size="56" textLength="96" lengthAdjust="spacingAndGlyphs">D</text>
<text x="2002" y="-60" font-size="126" textLength="96" lengthAdjust="spacingAndGlyphs">R</text>
<text x="2002" y="-20" font-size="56" textLength="96" lengthAdjust="spacingAndGlyphs">K</text>
<text x="2102" y="-70" font-size="349" textLength="96" lengthAdjust="spacingAndGlyphs">F</text>
<text x="2202" y="-30" font-size="154" textLength="96" lengthAdjust="spacingAndGlyphs">D</text>
<text x="2302" y="-30" font-size="98" textLength="96" lengthAdjust="spacingAndGlyphs">D</text>
<text class="l r" x="2402" y="-60" font-size="307" textLength="96" lengthAdjust="spacingAndGlyphs">C</text>
<text x="2502" y="-10" font-size="140" textLength="96" lengthAdjust="spacingAndGlyphs">L</text>
<text x="2602" y="-20" font-size="84" textLength="96" lengthAdjust="spacingAndGlyphs">A</text>
<text x="2702" y="-20" font-size="126" textLength="96" lengthAdjust="spacingAndGlyphs">F</text>
<text x="2802" y="-20" font-size="237" textLength="96" lengthAdjust="spacingAndGlyphs">A</text>
<text x="2902" y="-40" font-size="56" textLength="96" lengthAdjust="spacingAndGlyphs">N</text>
<text x="3002" y="-30" font-size="70" textLength="96" lengthAdjust="spacingAndGlyphs">E</text>
<text x="3102" y="-20" font-size="154" textLength="96" lengthAdjust="spacingAndGlyphs">L</text>
<text x="3202" y="-50" font-size="70" textLength="96" lengthAdjust="spacingAndGlyphs">K</text>
<text x="3302" y="-60" font-size="70" textLength="96" lengthAdjust="spacingAndGlyphs">Q</text>
<text x="3402" y="-30" font-size="70" textLength="96" lengthAdjust="spacingAndGlyphs">E</text>
<text x="3502" y="-30" font-size="70" textLength="96" lengthAdjust="spacingAndGlyphs">V</text>
<text x="3702" y="-50" font-size="56" textLength="96" lengthAdjust="spacingAndGlyphs">P</text>
<text class="l r" x="3802" y="-100" font-size="237" textLength="96" lengthAdjust="spacingAndGlyphs">C</text>
<text x="3802" y="-40" font-size="84" textLength="96" lengthAdjust="spacingAndGlyphs">A</text>
<text x="3902" y="-50" font-size="237" textLength="96" lengthAdjust="spacingAndGlyphs">S</text>
<text x="4030" y="-50" font-size="251" textLength="40" lengthAdjust="spacingAndGlyphs">I</text>
<text x="4102" y="-30" font-size="154" textLength="96" lengthAdjust="spacingAndGlyphs">A</text>
<text x="4202" y="-10" font-size="224" textLength="96" lengthAdjust="spacingAndGlyphs">L</text>
<text x="4302" y="-60" font-size="237" textLength="96" lengthAdjust="spacingAndGlyphs">Q</text>
<text x="4302" y="-10" font-size="70" textLength="96" lengthAdjust="spacingAndGlyphs">K</text>
<text x="4402" y="-20" font-size="363" textLength="96" lengthAdjust="spacingAndGlyphs">P</text>
<text x="4502" y="-10" font-size="293" textLength="96" lengthAdjust="spacingAndGlyphs">L</text>
<text x="4602" y="-60" font-size="112" textLength="96" lengthAdjust="spacingAndGlyphs">F</text>
<text x="4702" y="-60" font-size="98" textLength="96" lengthAdjust="spacingAndGlyphs">E</text>
<text x="4802" y="-60" font-size="112" textLength="96" lengthAdjust="spacingAndGlyphs">G</text>
<text x="4902" y="-60" font-size="335" textLength="96" lengthAdjust="spacingAndGlyphs">F</text>
<text x="5002" y="-60" font-size="98" textLength="96" lengthAdjust="spacingAndGlyphs">G</text>
<text x="5102" y="-60" font-size="98" textLength="96" lengthAdjust="spacingAndGlyphs">H</text>
<text x="5202" y="-50" font-size="98" textLength="96" lengthAdjust="spacingAndGlyphs">G</text>
<text x="5302" y="-30" font-size="140" textLength="96" lengthAdjust="spacingAndGlyphs">G</text>
<text x="5430" y="-20" font-size="265" textLength="40" lengthAdjust="spacingAndGlyphs">I</text>
<text x="5502" y="-40" font-size="70" textLength="96" lengthAdjust="spacingAndGlyphs">K</text>
<text x="5630" y="-120" font-size="126" textLength="40" lengthAdjust="spacingAndGlyphs">I</text>
<text x="5602" y="-40" font-size="84" textLength="96" lengthAdjust="spacingAndGlyphs">K</text>
<text x="5802" y="-60" font-size="126" textLength="96" lengthAdjust="spacingAndGlyphs">Y</text>
<text x="5902" y="-50" font-size="70" textLength="96" lengthAdjust="spacingAndGlyphs">P</text>
<text x="6102" y="-60" font-size="363" textLength="96" lengthAdjust="spacingAndGlyphs">Y</text>
<text x="6202" y="-50" font-size="224" textLength="96" lengthAdjust="spacingAndGlyphs">T</text>
<text x="6302" y="-60" font-size="56" textLength="96" lengthAdjust="spacingAndGlyphs">P</text>
<text x="6402" y="-60" font-size="84" textLength="96" lengthAdjust="spacingAndGlyphs">E</text>
<text x="6502" y="-50" font-size="391" textLength="96" lengthAdjust="spacingAndGlyphs">Q</text>
<text x="6602" y="-60" font-size="70" textLength="96" lengthAdjust="spacingAndGlyphs">E</text>
<text x="6702" y="-60" font-size="70" textLength="96" lengthAdjust="spacingAndGlyphs">Q</text>
<text x="6802" y="-60" font-size="70" textLength="96" lengthAdjust="spacingAndGlyphs">T</text>
<text x="6902" y="-40" font-size="251" textLength="96" lengthAdjust="spacingAndGlyphs">M</text>
<text x="7002" y="-50" font-size="42" textLength="96" lengthAdjust="spacingAndGlyphs">K</text>
<text x="7102" y="-50" font-size="42" textLength="96" lengthAdjust="spacingAndGlyphs">D</text>
<text x="7502" y="-80" font-size="154" textLength="96" lengthAdjust="spacingAndGlyphs">F</text>
<text x="7602" y="-50" font-size="84" textLength="96" lengthAdjust="spacingAndGlyphs">R</text>
<text x="7702" y="-60" font-size="84" textLength="96" lengthAdjust="spacingAndGlyphs">G</text>
<text x="7802" y="-60" font-size="84" textLength="96" lengthAdjust="spacingAndGlyphs">R</text>
<text x="7902" y="-60" font-size="84" textLength="96" lengthAdjust="spacingAndGlyphs">P</text>
</g></g>

<!-- Row 8 -->
<g transform="translate(134.5,2291.6) scale(0.4494,0.527)">
<rect x="0" y="-300" width="8000" height="300" fill="url(#eb2)"/>
<g class="l">
<text x="102" y="-60" font-size="28" textLength="96" lengthAdjust="spacingAndGlyphs">E</text>
<text x="202" y="-60" font-size="28" textLength="96" lengthAdjust="spacingAndGlyphs">L</text>
<text x="402" y="-80" font-size="70" textLength="96" lengthAdjust="spacingAndGlyphs">K</text>
<text x="502" y="-60" font-size="42" textLength="96" lengthAdjust="spacingAndGlyphs">T</text>
<text x="602" y="-50" font-size="70" textLength="96" lengthAdjust="spacingAndGlyphs">L</text>
<text x="702" y="-70" font-size="126" textLength="96" lengthAdjust="spacingAndGlyphs">P</text>
<text x="802" y="-60" font-size="98" textLength="96" lengthAdjust="spacingAndGlyphs">P</text>
<text x="902" y="-60" font-size="70" textLength="96" lengthAdjust="spacingAndGlyphs">S</text>
<text x="1702" y="-100" font-size="154" textLength="96" lengthAdjust="spacingAndGlyphs">R</text>
<text x="1702" y="-40" font-size="84" textLength="96" lengthAdjust="spacingAndGlyphs">M</text>
<text x="1802" y="-90" font-size="56" textLength="96" lengthAdjust="spacingAndGlyphs">A</text>
<text x="1802" y="-50" font-size="56" textLength="96" lengthAdjust="spacingAndGlyphs">G</text>
<text x="1902" y="-90" font-size="56" textLength="96" lengthAdjust="spacingAndGlyphs">E</text>
<text x="1902" y="-40" font-size="70" textLength="96" lengthAdjust="spacingAndGlyphs">M</text>
<text x="2002" y="-60" font-size="210" textLength="96" lengthAdjust="spacingAndGlyphs">L</text>
<text x="2102" y="-70" font-size="56" textLength="96" lengthAdjust="spacingAndGlyphs">E</text>
<text x="2202" y="-70" font-size="98" textLength="96" lengthAdjust="spacingAndGlyphs">V</text>
<text x="2402" y="-90" font-size="112" textLength="96" lengthAdjust="spacingAndGlyphs">Y</text>
<text x="2402" y="-40" font-size="70" textLength="96" lengthAdjust="spacingAndGlyphs">A</text>
<text x="2602" y="-30" font-size="210" textLength="96" lengthAdjust="spacingAndGlyphs">D</text>
<text x="2702" y="-30" font-size="182" textLength="96" lengthAdjust="spacingAndGlyphs">G</text>
<text x="2802" y="-60" font-size="42" textLength="96" lengthAdjust="spacingAndGlyphs">T</text>
<text x="2902" y="-60" font-size="42" textLength="96" lengthAdjust="spacingAndGlyphs">T</text>
<text x="3002" y="-60" font-size="42" textLength="96" lengthAdjust="spacingAndGlyphs">E</text>
<text x="3102" y="-60" font-size="56" textLength="96" lengthAdjust="spacingAndGlyphs">N</text>
<text x="3202" y="-60" font-size="98" textLength="96" lengthAdjust="spacingAndGlyphs">S</text>
<text x="3302" y="-60" font-size="112" textLength="96" lengthAdjust="spacingAndGlyphs">T</text>
<text x="3602" y="-60" font-size="84" textLength="96" lengthAdjust="spacingAndGlyphs">F</text>
<text x="3702" y="-60" font-size="84" textLength="96" lengthAdjust="spacingAndGlyphs">D</text>
<text x="3802" y="-30" font-size="224" textLength="96" lengthAdjust="spacingAndGlyphs">L</text>
<text x="3930" y="-20" font-size="237" textLength="40" lengthAdjust="spacingAndGlyphs">I</text>
<text x="4002" y="-30" font-size="84" textLength="96" lengthAdjust="spacingAndGlyphs">A</text>
<text x="4102" y="-60" font-size="84" textLength="96" lengthAdjust="spacingAndGlyphs">N</text>
<text x="4202" y="-70" font-size="70" textLength="96" lengthAdjust="spacingAndGlyphs">D</text>
<text x="4302" y="-60" font-size="84" textLength="96" lengthAdjust="spacingAndGlyphs">Q</text>
<text x="4402" y="-80" font-size="98" textLength="96" lengthAdjust="spacingAndGlyphs">N</text>
<text x="4502" y="-60" font-size="126" textLength="96" lengthAdjust="spacingAndGlyphs">N</text>
<text x="4602" y="-140" font-size="293" textLength="96" lengthAdjust="spacingAndGlyphs">F</text>
<text x="4602" y="-30" font-size="98" textLength="96" lengthAdjust="spacingAndGlyphs">W</text>
<text x="4702" y="-30" font-size="42" textLength="96" lengthAdjust="spacingAndGlyphs">V</text>
<text x="4802" y="-60" font-size="196" textLength="96" lengthAdjust="spacingAndGlyphs">G</text>
<text x="4902" y="-80" font-size="280" textLength="96" lengthAdjust="spacingAndGlyphs">W</text>
<text x="4902" y="-30" font-size="70" textLength="96" lengthAdjust="spacingAndGlyphs">Y</text>
<text x="5002" y="-40" font-size="154" textLength="96" lengthAdjust="spacingAndGlyphs">D</text>
<text class="l r" x="5102" y="-20" font-size="573" textLength="96" lengthAdjust="spacingAndGlyphs">C</text>
<text x="5202" y="-30" font-size="140" textLength="96" lengthAdjust="spacingAndGlyphs">Y</text>
<text x="5302" y="-50" font-size="98" textLength="96" lengthAdjust="spacingAndGlyphs">A</text>
<text x="5402" y="-60" font-size="196" textLength="96" lengthAdjust="spacingAndGlyphs">G</text>
<text x="5530" y="-60" font-size="140" textLength="40" lengthAdjust="spacingAndGlyphs">I</text>
<text x="5502" y="-10" font-size="70" textLength="96" lengthAdjust="spacingAndGlyphs">L</text>
<text x="5602" y="-60" font-size="140" textLength="96" lengthAdjust="spacingAndGlyphs">E</text>
<text x="5702" y="-60" font-size="98" textLength="96" lengthAdjust="spacingAndGlyphs">S</text>
<text x="5802" y="-40" font-size="168" textLength="96" lengthAdjust="spacingAndGlyphs">L</text>
<text x="5902" y="-50" font-size="168" textLength="96" lengthAdjust="spacingAndGlyphs">V</text>
<text x="6002" y="-60" font-size="154" textLength="96" lengthAdjust="spacingAndGlyphs">V</text>
<text x="6030" y="-10" font-size="70" textLength="40" lengthAdjust="spacingAndGlyphs">I</text>
<text x="6102" y="-40" font-size="126" textLength="96" lengthAdjust="spacingAndGlyphs">T</text>
<text x="6202" y="-60" font-size="70" textLength="96" lengthAdjust="spacingAndGlyphs">F</text>
<text x="6302" y="-60" font-size="56" textLength="96" lengthAdjust="spacingAndGlyphs">S</text>
<text x="6402" y="-10" font-size="224" textLength="96" lengthAdjust="spacingAndGlyphs">G</text>
<text x="6502" y="-60" font-size="140" textLength="96" lengthAdjust="spacingAndGlyphs">D</text>
<text x="6630" y="-50" font-size="140" textLength="40" lengthAdjust="spacingAndGlyphs">I</text>
<text x="6702" y="-60" font-size="140" textLength="96" lengthAdjust="spacingAndGlyphs">Y</text>
<text x="6802" y="-100" font-size="154" textLength="96" lengthAdjust="spacingAndGlyphs">R</text>
<text x="6902" y="-50" font-size="84" textLength="96" lengthAdjust="spacingAndGlyphs">S</text>
<text x="6902" y="-10" font-size="56" textLength="96" lengthAdjust="spacingAndGlyphs">A</text>
<text x="7002" y="-60" font-size="251" textLength="96" lengthAdjust="spacingAndGlyphs">W</text>
<text x="7002" y="-10" font-size="70" textLength="96" lengthAdjust="spacingAndGlyphs">V</text>
<text class="l r" x="7102" y="-20" font-size="573" textLength="96" lengthAdjust="spacingAndGlyphs">C</text>
<text x="7202" y="-60" font-size="98" textLength="96" lengthAdjust="spacingAndGlyphs">M</text>
<text x="7202" y="-20" font-size="56" textLength="96" lengthAdjust="spacingAndGlyphs">G</text>
<text x="7302" y="-60" font-size="98" textLength="96" lengthAdjust="spacingAndGlyphs">Q</text>
<text x="7402" y="-60" font-size="98" textLength="96" lengthAdjust="spacingAndGlyphs">D</text>
<text x="7502" y="-20" font-size="224" textLength="96" lengthAdjust="spacingAndGlyphs">G</text>
<text x="7602" y="-60" font-size="56" textLength="96" lengthAdjust="spacingAndGlyphs">P</text>
<text x="7730" y="-40" font-size="182" textLength="40" lengthAdjust="spacingAndGlyphs">I</text>
<text x="7802" y="-40" font-size="210" textLength="96" lengthAdjust="spacingAndGlyphs">G</text>
<text x="7902" y="-60" font-size="98" textLength="96" lengthAdjust="spacingAndGlyphs">S</text>
</g></g>

<!-- Row 9 -->
<g transform="translate(134.5,2583.4) scale(0.4494,0.527)">
<rect x="0" y="-300" width="5200" height="300" fill="url(#eb2)"/>
<g class="l">
<text x="30" y="-83" font-size="232" textLength="40" lengthAdjust="spacingAndGlyphs">I</text>
<rect x="5" y="-249" width="90" height="12" fill="#000"/><rect x="5" y="-95" width="90" height="12" fill="#000"/>
<text x="2" y="-20" font-size="70" textLength="96" lengthAdjust="spacingAndGlyphs">L</text>
<text x="102" y="-103" font-size="190" textLength="96" lengthAdjust="spacingAndGlyphs">Y</text>
<text x="102" y="-40" font-size="84" textLength="96" lengthAdjust="spacingAndGlyphs">G</text>
<text x="202" y="-67" font-size="285" textLength="96" lengthAdjust="spacingAndGlyphs">D</text>
<text x="202" y="-10" font-size="49" textLength="96" lengthAdjust="spacingAndGlyphs">N</text>
<text x="402" y="-77" font-size="150" textLength="96" lengthAdjust="spacingAndGlyphs">E</text>
<text x="402" y="-40" font-size="42" textLength="96" lengthAdjust="spacingAndGlyphs">G</text>
<text x="502" y="-96" font-size="73" textLength="96" lengthAdjust="spacingAndGlyphs">N</text>
<text x="502" y="-65" font-size="35" textLength="96" lengthAdjust="spacingAndGlyphs">D</text>
<text x="630" y="-90" font-size="119" textLength="40" lengthAdjust="spacingAndGlyphs">I</text>
<text x="602" y="-50" font-size="35" textLength="96" lengthAdjust="spacingAndGlyphs">L</text>
<text x="702" y="-90" font-size="70" textLength="96" lengthAdjust="spacingAndGlyphs">E</text>
<text x="702" y="-60" font-size="42" textLength="96" lengthAdjust="spacingAndGlyphs">D</text>
<text x="802" y="-15" font-size="321" textLength="96" lengthAdjust="spacingAndGlyphs">L</text>
<text x="902" y="-10" font-size="461" textLength="96" lengthAdjust="spacingAndGlyphs">P</text>
<text x="1002" y="-85" font-size="84" textLength="96" lengthAdjust="spacingAndGlyphs">T</text>
<text x="1102" y="-90" font-size="28" textLength="96" lengthAdjust="spacingAndGlyphs">H</text>
<text x="1202" y="-30" font-size="391" textLength="96" lengthAdjust="spacingAndGlyphs">P</text>
<text x="1330" y="-60" font-size="98" textLength="40" lengthAdjust="spacingAndGlyphs">I</text>
<text x="1402" y="-40" font-size="84" textLength="96" lengthAdjust="spacingAndGlyphs">K</text>
<text class="l r" x="1502" y="-20" font-size="573" textLength="96" lengthAdjust="spacingAndGlyphs">C</text>
<text x="1602" y="-60" font-size="70" textLength="96" lengthAdjust="spacingAndGlyphs">R</text>
<text x="1702" y="-60" font-size="126" textLength="96" lengthAdjust="spacingAndGlyphs">T</text>
<text x="1802" y="-60" font-size="84" textLength="96" lengthAdjust="spacingAndGlyphs">K</text>
<text x="1930" y="-60" font-size="98" textLength="40" lengthAdjust="spacingAndGlyphs">I</text>
<text class="l r" x="2002" y="-20" font-size="573" textLength="96" lengthAdjust="spacingAndGlyphs">C</text>
<text x="2102" y="-60" font-size="98" textLength="96" lengthAdjust="spacingAndGlyphs">Q</text>
<text class="l r" x="2202" y="-30" font-size="559" textLength="96" lengthAdjust="spacingAndGlyphs">C</text>
<text x="2302" y="-60" font-size="70" textLength="96" lengthAdjust="spacingAndGlyphs">G</text>
<text x="2402" y="-40" font-size="70" textLength="96" lengthAdjust="spacingAndGlyphs">V</text>
<text x="2602" y="-10" font-size="489" textLength="96" lengthAdjust="spacingAndGlyphs">D</text>
<text x="2730" y="-90" font-size="140" textLength="40" lengthAdjust="spacingAndGlyphs">I</text>
<text x="2702" y="-20" font-size="98" textLength="96" lengthAdjust="spacingAndGlyphs">L</text>
<text x="2802" y="-60" font-size="84" textLength="96" lengthAdjust="spacingAndGlyphs">S</text>
<text x="2902" y="-60" font-size="56" textLength="96" lengthAdjust="spacingAndGlyphs">A</text>
<text x="3002" y="-70" font-size="98" textLength="96" lengthAdjust="spacingAndGlyphs">K</text>
<text x="3102" y="-10" font-size="391" textLength="96" lengthAdjust="spacingAndGlyphs">K</text>
<text x="3202" y="-50" font-size="56" textLength="96" lengthAdjust="spacingAndGlyphs">V</text>
<text x="3302" y="-60" font-size="126" textLength="96" lengthAdjust="spacingAndGlyphs">N</text>
<text x="3402" y="-50" font-size="70" textLength="96" lengthAdjust="spacingAndGlyphs">T</text>
<text x="3502" y="-40" font-size="70" textLength="96" lengthAdjust="spacingAndGlyphs">K</text>
<text x="3602" y="-30" font-size="98" textLength="96" lengthAdjust="spacingAndGlyphs">L</text>
<text x="4102" y="-60" font-size="84" textLength="96" lengthAdjust="spacingAndGlyphs">N</text>
<text x="4202" y="-60" font-size="56" textLength="96" lengthAdjust="spacingAndGlyphs">K</text>
<text x="4402" y="-50" font-size="70" textLength="96" lengthAdjust="spacingAndGlyphs">Q</text>
<text x="4502" y="-60" font-size="42" textLength="96" lengthAdjust="spacingAndGlyphs">E</text>
<text x="4630" y="-40" font-size="237" textLength="40" lengthAdjust="spacingAndGlyphs">I</text>
<text x="4702" y="-30" font-size="140" textLength="96" lengthAdjust="spacingAndGlyphs">A</text>
<text x="4802" y="-60" font-size="84" textLength="96" lengthAdjust="spacingAndGlyphs">V</text>
<text x="4930" y="-60" font-size="126" textLength="40" lengthAdjust="spacingAndGlyphs">I</text>
<text x="5002" y="-50" font-size="182" textLength="96" lengthAdjust="spacingAndGlyphs">Q</text>
<text x="5102" y="-30" font-size="98" textLength="96" lengthAdjust="spacingAndGlyphs">L</text>
</g></g>

<text x="3732" y="2658" text-anchor="end" style="font-family:'Liberation Sans',sans-serif;font-size:25px">WebLogo 3.7.12</text>
</svg>
</body></html>
